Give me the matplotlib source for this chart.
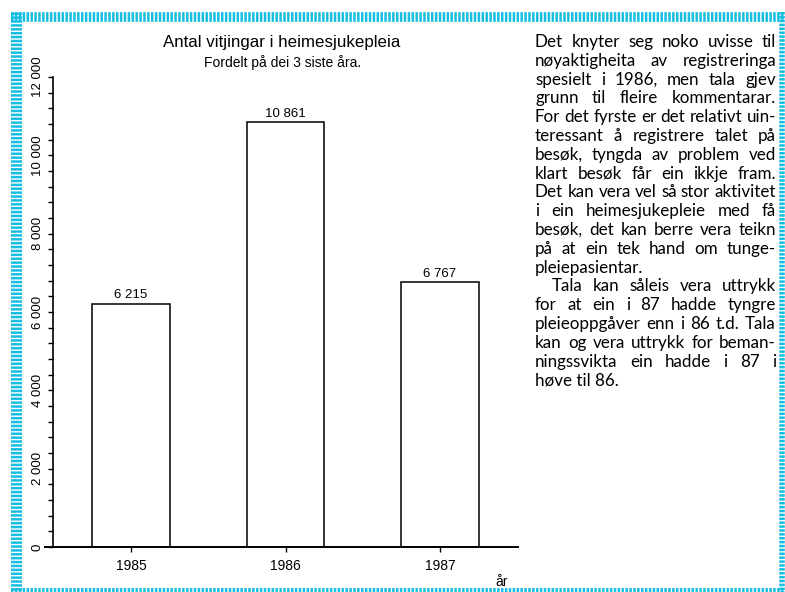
import matplotlib
matplotlib.use("Agg")
import matplotlib.pyplot as plt
from matplotlib.lines import Line2D
import numpy as np

# data
years = [1985, 1986, 1987]
year_labels = ["1985", "1986", "1987"]
visits = [6215, 10861, 6767]
value_labels = ["6 215", "10 861", "6 767"]
ytick_values = [0, 2000, 4000, 6000, 8000, 10000, 12000]
ytick_labels = ["0", "2 000", "4 000", "6 000", "8 000", "10 000", "12 000"]

title = "Antal vitjingar i heimesjukepleia"
subtitle = "Fordelt på dei 3 siste åra."

body_lines = [
    "Det knyter seg noko uvisse til",
    "nøyaktigheita av registreringa",
    "spesielt i 1986, men tala gjev",
    "grunn til fleire kommentarar.",
    "For det fyrste er det relativt uin-",
    "teressant å registrere talet på",
    "besøk, tyngda av problem ved",
    "klart besøk får ein ikkje fram.",
    "Det kan vera vel så stor aktivitet",
    "i ein heimesjukepleie med få",
    "besøk, det kan berre vera teikn",
    "på at ein tek hand om tunge-",
    "pleiepasientar.",
    "Tala kan såleis vera uttrykk",
    "for at ein i 87 hadde tyngre",
    "pleieoppgåver enn i 86 t.d. Tala",
    "kan og vera uttrykk for beman-",
    "ningssvikta ein hadde i 87 i",
    "høve til 86.",
]
paragraph_ends = [12, 18]
indented = [13]

W, H = 785, 592
CHART_FONT = "Liberation Sans"
BODY_FONT = "Lato"
BORDER = "#17BEE2"

plt.rcParams["lines.scale_dashes"] = False

fig = plt.figure(figsize=(W / 100, H / 100), dpi=100)


def fx(px):
    return px / W


def fy(py):
    return 1 - py / H


ax = fig.add_axes([fx(53), fy(547), fx(518 - 53), (547 - 77) / H])
ax.bar(years, visits, width=0.5, color="white", edgecolor="black", linewidth=1.1)
for x, v, lab in zip(years, visits, value_labels):
    ax.annotate(lab, (x, v), xytext=(0, 1.5), textcoords="offset points",
                ha="center", va="bottom", fontsize=9.5, family=CHART_FONT)

ax.set_xlim(1984.495, 1987.505)
ax.set_ylim(0, 12000)
ax.spines["top"].set_visible(False)
ax.spines["right"].set_visible(False)
ax.spines["left"].set_linewidth(1.2)
ax.spines["bottom"].set_linewidth(1.4)
ax.spines["bottom"].set_bounds(1984.44, 1987.505)

ax.set_xticks(years)
ax.set_xticklabels(year_labels, fontsize=10, family=CHART_FONT)
ax.set_yticks(ytick_values)
ax.set_yticklabels(ytick_labels, fontsize=9.5, family=CHART_FONT, rotation=90, va="center")
ax.set_yticks(np.arange(0, 12001, 400), minor=True)
ax.tick_params(axis="both", which="both", direction="out", length=3.5, width=1.0)
ax.tick_params(axis="y", pad=3)
ax.tick_params(axis="x", pad=5)

fig.text(fx(282), fy(43), title, ha="center", va="center", fontsize=12.2, family=CHART_FONT)
fig.text(fx(283), fy(63), subtitle, ha="center", va="center", fontsize=10, family=CHART_FONT)
fig.text(fx(502), fy(582), "år", ha="center", va="center", fontsize=10, family=CHART_FONT)

# justified body text on the right
renderer = fig.canvas.get_renderer()


def text_width(s, size):
    t = fig.text(0, 0, s, fontsize=size, family=BODY_FONT)
    w = t.get_window_extent(renderer).width
    t.remove()
    return w


left_px, right_px = 535, 776
fs = 10 * (right_px - left_px) / text_width(body_lines[8], 10)
base0, step = 47, 18.8
for i, line in enumerate(body_lines):
    yb = base0 + i * step
    x0 = left_px + (17 if i in indented else 0)
    if i in paragraph_ends:
        fig.text(fx(x0), fy(yb), line, fontsize=fs, family=BODY_FONT, va="baseline")
        continue
    words = line.split()
    widths = [text_width(w, fs) for w in words]
    gap = (right_px - x0 - sum(widths)) / (len(words) - 1)
    x = x0
    for w, ww in zip(words, widths):
        fig.text(fx(x), fy(yb), w, fontsize=fs, family=BODY_FONT, va="baseline")
        x += ww + gap

# dashed cyan frame around the page
frame = [
    ((11, 784), (16.5, 16.5), 7.0),
    ((15.5, 15.5), (12, 592), 8.0),
    ((11, 784), (590, 590), 2.8),
    ((782, 782), (12, 592), 4.0),
]
for xs, ys, lw in frame:
    fig.add_artist(Line2D([fx(v) for v in xs], [fy(v) for v in ys], color=BORDER,
                          linewidth=lw, dashes=(1.8, 1.0), solid_capstyle="butt"))

fig.savefig("out.png", dpi=100)
